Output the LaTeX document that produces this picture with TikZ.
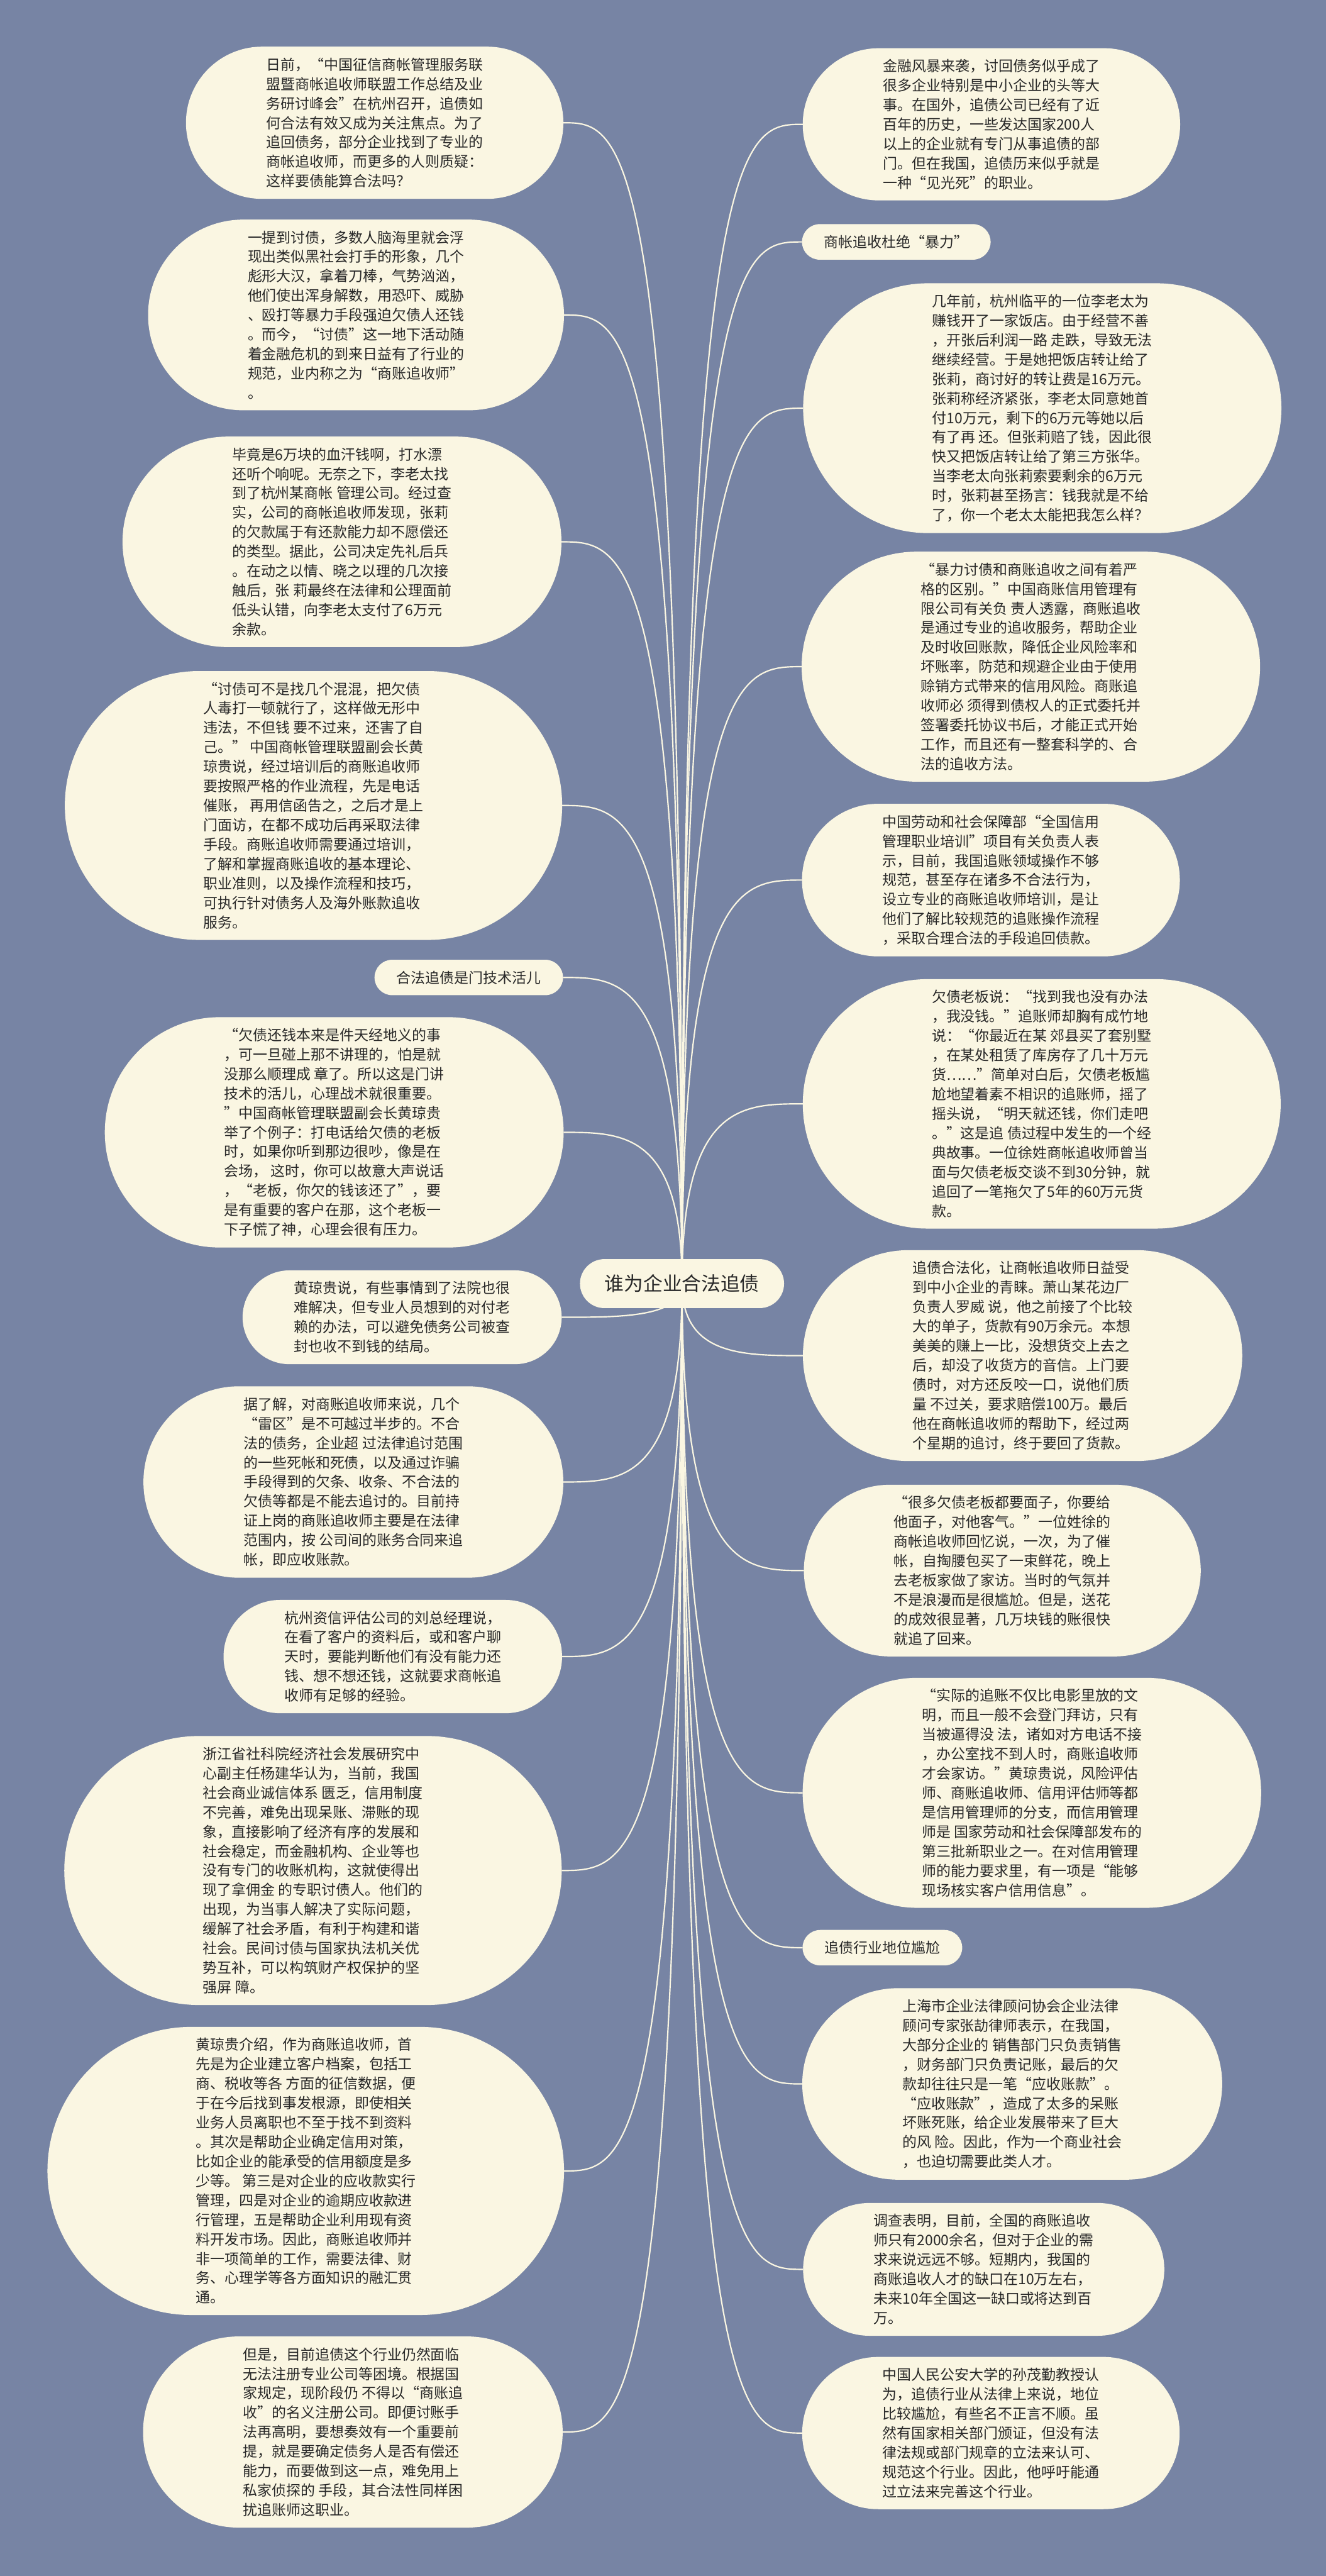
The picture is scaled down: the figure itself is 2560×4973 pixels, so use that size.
\documentclass[tikz,border=0pt]{standalone}
\usepackage{fontspec}
\setmainfont{Noto Sans CJK SC}
\usetikzlibrary{calc,backgrounds}

\definecolor{bgslate}{RGB}{119,132,164}
\definecolor{blobcream}{RGB}{250,246,226}
\definecolor{inkgray}{RGB}{40,40,40}

\newcommand{\blobfont}{\fontsize{12.7pt}{17.1pt}\selectfont}
\newcommand{\rootfont}{\fontsize{17pt}{20pt}\selectfont}

% pill behind a text node, with tips #1-w and #1-e
\newcommand{\pill}[1]{%
	\path[fill=blobcream] let \p1=(#1.south west), \p2=(#1.north east), \n1={0.5*(\y2-\y1)} in
	(\x1,\y1) -- (\x2,\y1) arc[start angle=-90, end angle=90, radius=\n1]
	-- (\x1,\y2) arc[start angle=90, end angle=270, radius=\n1] -- cycle
	(\x1-\n1,\y1+\n1) coordinate (#1-w)
	(\x2+\n1,\y1+\n1) coordinate (#1-e);}

\tikzset{
	blob/.style={rectangle, text=inkgray, align=left, font=\blobfont,
		inner xsep=3.6pt, inner ysep=9.5pt},
	leftblob/.style={blob, anchor=east},
	rightblob/.style={blob, anchor=west},
	rootbox/.style={rectangle, text=inkgray, font=\rootfont, inner xsep=0pt, minimum height=1.5cm},
	link/.style={draw=blobcream, line width=1.2pt}
}

\begin{document}
\begin{tikzpicture}[x=0.016cm, y=-0.016cm]
	\node[rootbox] (root) at (1317,2478) {谁为企业合法追债};
	
	% left side
	\node[leftblob] (l1) at (941,237) {日前，“中国征信商帐管理服务联\\盟暨商帐追收师联盟工作总结及业\\务研讨峰会”在杭州召开，追债如\\何合法有效又成为关注焦点。为了\\追回债务，部分企业找到了专业的\\商帐追收师，而更多的人则质疑：\\这样要债能算合法吗？};
	\node[leftblob] (l2) at (905,608) {一提到讨债，多数人脑海里就会浮\\现出类似黑社会打手的形象，几个\\彪形大汉，拿着刀棒，气势汹汹，\\他们使出浑身解数，用恐吓、威胁\\、殴打等暴力手段强迫欠债人还钱\\。而今，“讨债”这一地下活动随\\着金融危机的到来日益有了行业的\\规范，业内称之为“商账追收师”\\。};
	\node[leftblob] (l3) at (881,1046) {毕竟是6万块的血汗钱啊，打水漂\\还听个响呢。无奈之下，李老太找\\到了杭州某商帐 管理公司。经过查\\实，公司的商帐追收师发现，张莉\\的欠款属于有还款能力却不愿偿还\\的类型。据此，公司决定先礼后兵\\。在动之以情、晓之以理的几次接\\触后，张 莉最终在法律和公理面前\\低头认错，向李老太支付了6万元\\余款。};
	\node[leftblob] (l4) at (826,1555) {“讨债可不是找几个混混，把欠债\\人毒打一顿就行了，这样做无形中\\违法，不但钱 要不过来，还害了自\\己。” 中国商帐管理联盟副会长黄\\琼贵说，经过培训后的商账追收师\\要按照严格的作业流程，先是电话\\催账， 再用信函告之，之后才是上\\门面访，在都不成功后再采取法律\\手段。商账追收师需要通过培训，\\了解和掌握商账追收的基本理论、\\职业准则，以及操作流程和技巧，\\可执行针对债务人及海外账款追收\\服务。};
	\node[leftblob] (l5) at (1053,1887) {合法追债是门技术活儿};
	\node[leftblob] (l6) at (866,2186) {“欠债还钱本来是件天经地义的事\\，可一旦碰上那不讲理的，怕是就\\没那么顺理成 章了。所以这是门讲\\技术的活儿，心理战术就很重要。\\”中国商帐管理联盟副会长黄琼贵\\举了个例子：打电话给欠债的老板\\时，如果你听到那边很吵，像是在\\会场， 这时，你可以故意大声说话\\，“老板，你欠的钱该还了”，要\\是有重要的客户在那，这个老板一\\下子慌了神，心理会很有压力。};
	\node[leftblob] (l7) at (994,2543) {黄琼贵说，有些事情到了法院也很\\难解决，但专业人员想到的对付老\\赖的办法，可以避免债务公司被查\\封也收不到钱的结局。};
	\node[leftblob] (l8) at (903,2861) {据了解，对商账追收师来说，几个\\“雷区”是不可越过半步的。不合\\法的债务，企业超 过法律追讨范围\\的一些死帐和死债，以及通过诈骗\\手段得到的欠条、收条、不合法的\\欠债等都是不能去追讨的。目前持\\证上岗的商账追收师主要是在法律\\范围内，按 公司间的账务合同来追\\帐，即应收账款。};
	\node[leftblob] (l9) at (976,3198) {杭州资信评估公司的刘总经理说，\\在看了客户的资料后，或和客户聊\\天时，要能判断他们有没有能力还\\钱、想不想还钱，这就要求商帐追\\收师有足够的经验。};
	\node[leftblob] (l10) at (825,3611) {浙江省社科院经济社会发展研究中\\心副主任杨建华认为，当前，我国\\社会商业诚信体系 匮乏，信用制度\\不完善，难免出现呆账、滞账的现\\象，直接影响了经济有序的发展和\\社会稳定，而金融机构、企业等也\\没有专门的收账机构，这就使得出\\现了拿佣金 的专职讨债人。他们的\\出现，为当事人解决了实际问题，\\缓解了社会矛盾，有利于构建和谐\\社会。民间讨债与国家执法机关优\\势互补，可以构筑财产权保护的坚\\强屏 障。};
	\node[leftblob] (l11) at (811,4191) {黄琼贵介绍，作为商账追收师，首\\先是为企业建立客户档案，包括工\\商、税收等各 方面的征信数据，便\\于在今后找到事发根源，即使相关\\业务人员离职也不至于找不到资料\\。其次是帮助企业确定信用对策，\\比如企业的能承受的信用额度是多\\少等。 第三是对企业的应收款实行\\管理，四是对企业的逾期应收款进\\行管理，五是帮助企业利用现有资\\料开发市场。因此，商账追收师并\\非一项简单的工作，需要法律、财\\务、心理学等各方面知识的融汇贯\\通。};
	\node[leftblob] (l12) at (902,4695) {但是，目前追债这个行业仍然面临\\无法注册专业公司等困境。根据国\\家规定，现阶段仍 不得以“商账追\\收”的名义注册公司。即便讨账手\\法再高明，要想奏效有一个重要前\\提，就是要确定债务人是否有偿还\\能力，而要做到这一点，难免用上\\私家侦探的 手段，其合法性同样困\\扰追账师这职业。};
	
	% right side
	\node[rightblob] (r1) at (1697,240) {金融风暴来袭，讨回债务似乎成了\\很多企业特别是中小企业的头等大\\事。在国外，追债公司已经有了近\\百年的历史，一些发达国家200人\\以上的企业就有专门从事追债的部\\门。但在我国，追债历来似乎就是\\一种“见光死”的职业。};
	\node[rightblob] (r2) at (1583,467) {商帐追收杜绝“暴力”};
	\node[rightblob] (r3) at (1792,788) {几年前，杭州临平的一位李老太为\\赚钱开了一家饭店。由于经营不善\\，开张后利润一路 走跌，导致无法\\继续经营。于是她把饭店转让给了\\张莉，商讨好的转让费是16万元。\\张莉称经济紧张，李老太同意她首\\付10万元，剩下的6万元等她以后\\有了再 还。但张莉赔了钱，因此很\\快又把饭店转让给了第三方张华。\\当李老太向张莉索要剩余的6万元\\时，张莉甚至扬言：钱我就是不给\\了，你一个老太太能把我怎么样？};
	\node[rightblob] (r4) at (1770,1287) {“暴力讨债和商账追收之间有着严\\格的区别。”中国商账信用管理有\\限公司有关负 责人透露，商账追收\\是通过专业的追收服务，帮助企业\\及时收回账款，降低企业风险率和\\坏账率，防范和规避企业由于使用\\赊销方式带来的信用风险。商账追\\收师必 须得到债权人的正式委托并\\签署委托协议书后，才能正式开始\\工作，而且还有一整套科学的、合\\法的追收方法。};
	\node[rightblob] (r5) at (1696,1699) {中国劳动和社会保障部“全国信用\\管理职业培训”项目有关负责人表\\示，目前，我国追账领域操作不够\\规范，甚至存在诸多不合法行为，\\设立专业的商账追收师培训，是让\\他们了解比较规范的追账操作流程\\，采取合理合法的手段追回债款。};
	\node[rightblob] (r6) at (1791,2131) {欠债老板说：“找到我也没有办法\\，我没钱。”追账师却胸有成竹地\\说：“你最近在某 郊县买了套别墅\\，在某处租赁了库房存了几十万元\\货……”简单对白后，欠债老板尴\\尬地望着素不相识的追账师，摇了\\摇头说，“明天就还钱，你们走吧\\。”这是追 债过程中发生的一个经\\典故事。一位徐姓商帐追收师曾当\\面与欠债老板交谈不到30分钟，就\\追回了一笔拖欠了5年的60万元货\\款。};
	\node[rightblob] (r7) at (1754,2617) {追债合法化，让商帐追收师日益受\\到中小企业的青睐。萧山某花边厂\\负责人罗威 说，他之前接了个比较\\大的单子，货款有90万余元。本想\\美美的赚上一比，没想货交上去之\\后，却没了收货方的音信。上门要\\债时，对方还反咬一口，说他们质\\量 不过关，要求赔偿100万。最后\\他在商帐追收师的帮助下，经过两\\个星期的追讨，终于要回了货款。};
	\node[rightblob] (r8) at (1718,3032) {“很多欠债老板都要面子，你要给\\他面子，对他客气。”一位姓徐的\\商帐追收师回忆说，一次，为了催\\帐，自掏腰包买了一束鲜花，晚上\\去老板家做了家访。当时的气氛并\\不是浪漫而是很尴尬。但是，送花\\的成效很显著，几万块钱的账很快\\就追了回来。};
	\node[rightblob] (r9) at (1772,3461) {“实际的追账不仅比电影里放的文\\明，而且一般不会登门拜访，只有\\当被逼得没 法，诸如对方电话不接\\，办公室找不到人时，商账追收师\\才会家访。”黄琼贵说，风险评估\\师、商账追收师、信用评估师等都\\是信用管理师的分支，而信用管理\\师是 国家劳动和社会保障部发布的\\第三批新职业之一。在对信用管理\\师的能力要求里，有一项是“能够\\现场核实客户信用信息”。};
	\node[rightblob] (r10) at (1584,3760) {追债行业地位尴尬};
	\node[rightblob] (r11) at (1734,4023) {上海市企业法律顾问协会企业法律\\顾问专家张劼律师表示，在我国，\\大部分企业的 销售部门只负责销售\\，财务部门只负责记账，最后的欠\\款却往往只是一笔“应收账款”。\\“应收账款”，造成了太多的呆账\\坏账死账，给企业发展带来了巨大\\的风 险。因此，作为一个商业社会\\，也迫切需要此类人才。};
	\node[rightblob] (r12) at (1679,4381) {调查表明，目前，全国的商账追收\\师只有2000余名，但对于企业的需\\求来说远远不够。短期内，我国的\\商账追收人才的缺口在10万左右，\\未来10年全国这一缺口或将达到百\\万。};
	\node[rightblob] (r13) at (1696,4697) {中国人民公安大学的孙茂勤教授认\\为，追债行业从法律上来说，地位\\比较尴尬，有些名不正言不顺。虽\\然有国家相关部门颁证，但没有法\\律法规或部门规章的立法来认可、\\规范这个行业。因此，他呼吁能通\\过立法来完善这个行业。};
	
	\begin{scope}[on background layer]
		\fill[bgslate] (0,0) rectangle (2560,4973);
		\foreach \b in {l1,l2,l3,l4,l5,l6,l7,l8,l9,l10,l11,l12,r1,r2,r3,r4,r5,r6,r7,r8,r9,r10,r11,r12,r13}
		\pill{\b};
		
		\foreach \b in {l1,l2,l3,l4,l5,l6,l7,l8,l9,l10,l11,l12}
		\draw[link] (root.center) .. controls (root.center |- \b-e) and ($(root.center |- \b-e)!0.5!(\b-e)$) .. (\b-e);
		\foreach \b in {r1,r2,r3,r4,r5,r6,r7,r8,r9,r10,r11,r12,r13}
		\draw[link] (root.center) .. controls (root.center |- \b-w) and ($(root.center |- \b-w)!0.5!(\b-w)$) .. (\b-w);
		
		\pill{root};
	\end{scope}
\end{tikzpicture}
\end{document}
